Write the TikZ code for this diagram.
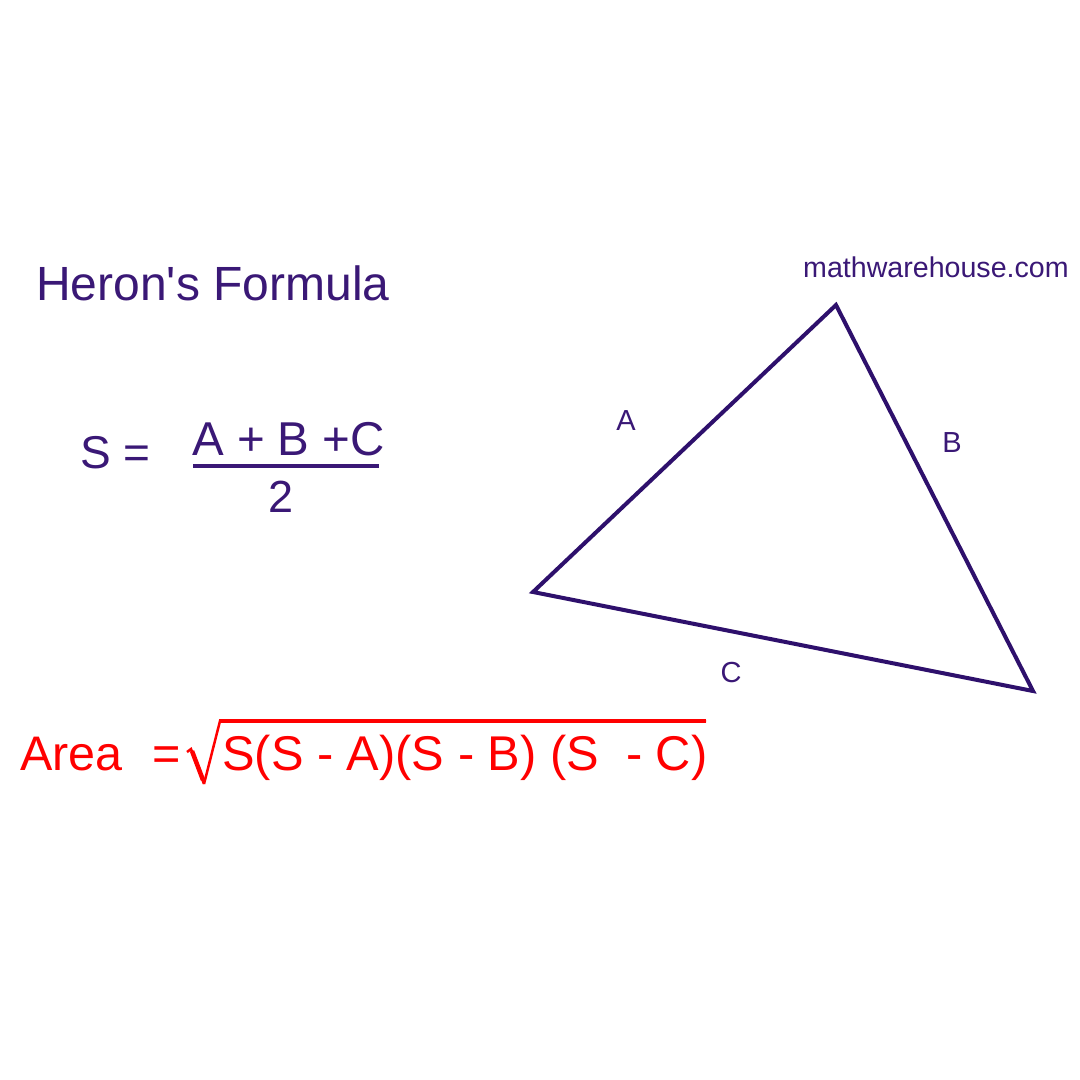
\documentclass[tikz,border=0pt]{standalone}
\usepackage{fontspec}
\setmainfont{Liberation Sans}[Ligatures=TeXOff]
\definecolor{heron}{RGB}{58,24,118}
\definecolor{tri}{RGB}{46,16,108}
\definecolor{redf}{RGB}{255,0,0}
\begin{document}
\begin{tikzpicture}[x=1pt,y=-1pt,
  txt/.style={inner sep=0pt,anchor=base west,text=heron},
  big/.style={font=\fontsize{48}{56}\selectfont},
  lbl/.style={inner sep=0pt,anchor=base,text=heron,font=\fontsize{29}{34}\selectfont},
  side/.style={draw=tri,line width=4pt,line join=miter}]
\fill[white] (0,0) rectangle (1080,1080);
\useasboundingbox (0,0) rectangle (1080,1080);
% title
\node[txt,big] (title) at (36,300) {Heron's Formula};
% S formula
\node[txt,font=\fontsize{46}{54}\selectfont] (seq) at (80,468) {S =};
\node[txt,font=\fontsize{47.5}{56}\selectfont] (num) at (192,455) {A + B +C};
\coordinate (fl) at (193,466);
\coordinate (fr) at (379,466);
\draw[draw=heron,line width=4pt] (fl) -- (fr);
\node[inner sep=0pt,anchor=base,text=heron,font=\fontsize{45}{54}\selectfont] (den) at (281,512) {2};
% watermark
\node[txt,font=\fontsize{28.6}{32}\selectfont] (wm) at (803,277) {mathwarehouse.com};
% triangle
\coordinate (T) at (836,305);
\coordinate (L) at (533,592);
\coordinate (R) at (1033,691);
\draw[side] (T) -- (R) -- (L) -- cycle;
\node[lbl] (la) at (626,430) {A};
\node[lbl] (lb) at (952,452) {B};
\node[lbl] (lc) at (731,682) {C};
% area formula
\node[inner sep=0pt,anchor=base west,text=redf,font=\fontsize{48.5}{56}\selectfont] (area) at (20,770) {Area};
\node[inner sep=0pt,anchor=base west,text=redf,font=\fontsize{48.5}{56}\selectfont] (eq) at (152,770) {=};
\coordinate (s0) at (187,752);
\coordinate (s1) at (191,749);
\coordinate (s2) at (204,784);
\coordinate (s3) at (220,721);
\coordinate (s4) at (706,721);
\draw[draw=redf,line width=2.5pt,line join=miter] (s0) -- (s1) -- (s2);
\draw[draw=redf,line width=4.5pt] (192,751) -- (203,780);
\draw[draw=redf,line width=2.5pt,line join=miter] (s2) -- (s3) -- (s4);
\draw[draw=redf,line width=4pt] (219,721) -- (s4);
\node[inner sep=0pt,anchor=base west,text=redf,font=\fontsize{48.8}{56}\selectfont] (rad) at (222,770) {S(S - A)(S - B) (S \ - C)};
\end{tikzpicture}
\end{document}
